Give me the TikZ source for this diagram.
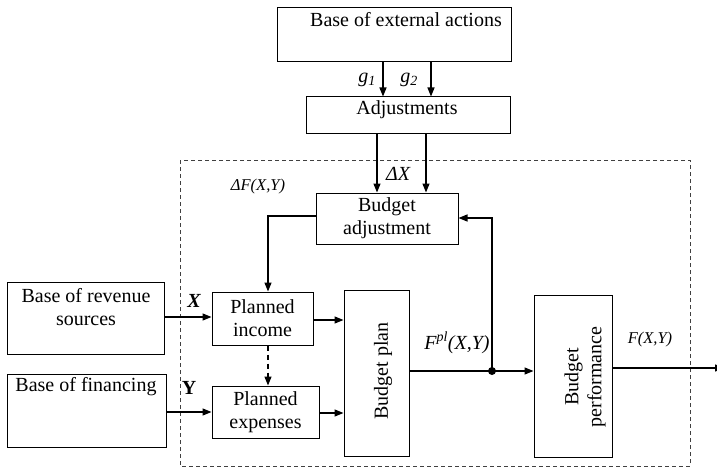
\documentclass[tikz,border=0pt]{standalone}
\usepackage{fontspec}
\setmainfont{Liberation Serif}
\usetikzlibrary{arrows.meta,calc}
\begin{document}
\begin{tikzpicture}[x=1pt,y=-1pt,
  box/.style={draw,line width=1pt,inner sep=0pt,align=center,
    font=\fontsize{20}{23}\selectfont},
  txt/.style={inner sep=0pt,align=center,font=\fontsize{20}{23}\selectfont},
  lbl/.style={inner sep=0pt,font=\fontsize{20}{23}\selectfont\itshape},
  slbl/.style={inner sep=0pt,font=\fontsize{16.5}{18}\selectfont\itshape},
  arr/.style={line width=1.3pt,-{Triangle[length=9pt,width=7pt]}},
  ln/.style={line width=1.3pt}]
\clip (0,0) rectangle (717,468);
\fill[white] (0,0) rectangle (717,468);

% enclosing dashed frame of the budget block
\draw[line width=1pt,black!75,dash pattern=on 4pt off 3pt] (180,160) rectangle (690,466);

% boxes
\node[box,minimum width=234,minimum height=54] (ext) at (394,35) {};
\node[txt] (extt) at (406,20) {Base of external actions};
\node[box,minimum width=204,minimum height=37] (adj) at (408,115.5) {};
\node[txt] (adjt) at (407,110) {Adjustments};
\node[box,minimum width=142,minimum height=51] (badj) at (387,218.5) {Budget\\adjustment};
\node[box,minimum width=101,minimum height=53] (pinc) at (262.5,318.5) {Planned\\income};
\node[box,minimum width=107,minimum height=52] (pexp) at (265.5,412) {Planned\\expenses};
\node[box,minimum width=157,minimum height=72] (rev) at (85.5,318) {};
\node[txt] (revt) at (86,307) {Base of revenue\\sources};
\node[box,minimum width=159,minimum height=73] (fin) at (86.5,410.5) {};
\node[txt] (fint) at (86,387) {Base of financing};
\node[box,minimum width=65,minimum height=166] (plan) at (376.5,373) {};
\node[txt,rotate=90] (plant) at (383,371) {Budget plan};
\node[box,minimum width=78,minimum height=162] (perf) at (573,376) {};
\node[txt,rotate=90] (perft) at (585,377) {Budget\\performance};

% helper points
\coordinate (j) at (492,371);
\coordinate (fb) at (492,218);
\coordinate (xin) at (0,317);
\coordinate (yin) at (0,412);
\coordinate (pi) at (0,320);
\coordinate (pe) at (0,413);
\coordinate (out) at (724,368);
\coordinate (dfl) at (268,216);

% connectors
\draw[arr] ([xshift=-11pt]ext.south) -- ([xshift=-25pt]adj.north);
\draw[arr] ([xshift=37pt]ext.south) -- ([xshift=23pt]adj.north);
\draw[arr] ([xshift=-31pt]adj.south) -- ([xshift=-10pt]badj.north);
\draw[arr] ([xshift=18pt]adj.south) -- ([xshift=39pt]badj.north);
\draw[arr] (badj.west |- dfl) -- (dfl) -- (pinc.north -| dfl);
\draw[arr] (rev.east |- xin) -- (pinc.west |- xin);
\draw[arr] (fin.east |- yin) -- (pexp.west |- yin);
\draw[arr] (pinc.east |- pi) -- (plan.west |- pi);
\draw[arr] (pexp.east |- pe) -- (plan.west |- pe);
\draw[arr,dash pattern=on 5pt off 4pt] (pinc.south -| dfl) -- (pexp.north -| dfl);
\draw[arr] (plan.east |- j) -- (perf.west |- j);
\draw[arr] (j) -- (fb) -- (badj.east |- fb);
\draw[arr] (perf.east |- out) -- (out);
\fill (j) circle (4pt);

% labels
\node[lbl] (g1) at (367,80) {g\textsubscript{1}};
\node[lbl] (g2) at (409,80) {g\textsubscript{2}};
\node[lbl] (dx) at (398,174) {ΔX};
\node[slbl] (df) at (258,187) {ΔF(X,Y)};
\node[lbl,font=\fontsize{20}{23}\selectfont\bfseries\itshape] (xl) at (194,301) {X};
\node[lbl,font=\fontsize{20}{23}\selectfont\bfseries] (yl) at (189,388) {Y};
\node[lbl] (fpl) at (457,343) {F\textsuperscript{pl}(X,Y)};
\node[slbl] (fxy) at (650,340) {F(X,Y)};
\end{tikzpicture}
\end{document}
